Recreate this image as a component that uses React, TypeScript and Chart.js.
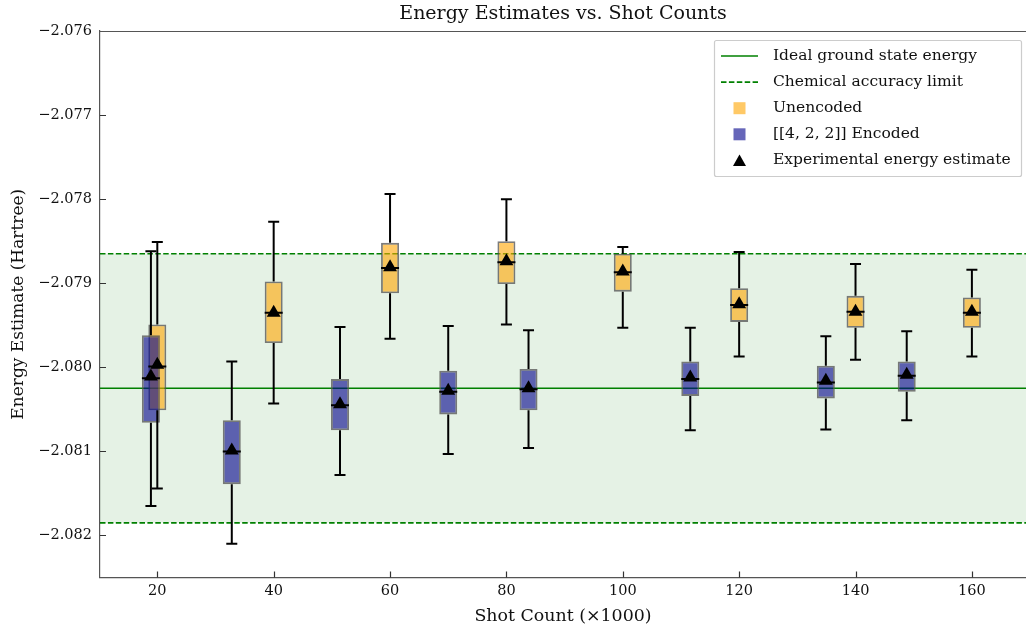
import React, { useEffect, useRef } from 'react';
import { Chart, registerables } from 'chart.js';

Chart.register(...registerables);

// ---------- data ----------
const chartTitle = 'Energy Estimates vs. Shot Counts';
const xAxisTitle = 'Shot Count (\u00d71000)';
const yAxisTitle = 'Energy Estimate (Hartree)';

const xTickValues = [20, 40, 60, 80, 100, 120, 140, 160];
const yTickValues = [-2.082, -2.081, -2.08, -2.079, -2.078, -2.077, -2.076];
const xMin = 10.15;
const xMax = 169.3;
const yMin = -2.0825;
const yMax = -2.076;

const idealEnergy = -2.08025;
const chemUpper = -2.07865;
const chemLower = -2.08185;

// Unencoded
const unencodedX = [20, 40, 60, 80, 100, 120, 140, 160];
const unencodedQ1 = [-2.08051, -2.07971, -2.07912, -2.07901, -2.0791, -2.07946, -2.07953, -2.07953];
const unencodedQ3 = [-2.07949, -2.07898, -2.07852, -2.0785, -2.07865, -2.07906, -2.07915, -2.07917];
const unencodedMedian = [-2.07999, -2.07935, -2.07882, -2.07875, -2.07887, -2.07926, -2.07934, -2.07935];
const unencodedWhiskerLo = [-2.08144, -2.08043, -2.07966, -2.07949, -2.07953, -2.07987, -2.07991, -2.07987];
const unencodedWhiskerHi = [-2.07851, -2.07827, -2.07794, -2.078, -2.07857, -2.07863, -2.07877, -2.07884];
const unencodedMean = [-2.07997, -2.07935, -2.07881, -2.07874, -2.07886, -2.07925, -2.07934, -2.07934];

// [[4, 2, 2]] Encoded
const encodedX = [18.9, 32.8, 51.4, 70.0, 83.8, 111.6, 134.9, 148.8];
const encodedQ1 = [-2.08066, -2.08139, -2.08075, -2.08056, -2.08051, -2.08034, -2.08037, -2.08029];
const encodedQ3 = [-2.07962, -2.08063, -2.08014, -2.08004, -2.08002, -2.07993, -2.07998, -2.07993];
const encodedMedian = [-2.08013, -2.081, -2.08045, -2.08029, -2.08026, -2.08014, -2.08018, -2.0801];
const encodedWhiskerLo = [-2.08165, -2.0821, -2.08128, -2.08103, -2.08096, -2.08075, -2.08074, -2.08063];
const encodedWhiskerHi = [-2.07862, -2.07993, -2.07952, -2.07951, -2.07956, -2.07953, -2.07963, -2.07957];
const encodedMean = [-2.08011, -2.08099, -2.08044, -2.08028, -2.08025, -2.08012, -2.08016, -2.08009];

const legendLabels = [
  'Ideal ground state energy',
  'Chemical accuracy limit',
  'Unencoded',
  '[[4, 2, 2]] Encoded',
  'Experimental energy estimate',
];

// ---------- styles ----------
const FONT = '"DejaVu Serif", serif';
const GREEN = '#008000';
const BAND = 'rgba(0,128,0,0.1)';
const UNENC_FILL = 'rgba(255,165,0,0.6)';
const ENC_FILL = 'rgba(0,0,139,0.6)';
const BOX_EDGE = 'rgba(80,80,80,0.75)';
const TEXT = '#111';

type P = { x: number; y: number | null };

const boxes = (xs: number[], lo: number[], hi: number[]) => xs.map((x, i) => ({ x, y: [lo[i], hi[i]] }));
const whiskers = (xs: number[], q1: number[], q3: number[], wlo: number[], whi: number[]): P[] =>
  xs.flatMap((x, i) => [
    { x, y: whi[i] },
    { x, y: q3[i] },
    { x, y: null },
    { x, y: q1[i] },
    { x, y: wlo[i] },
    { x, y: null },
  ]);
const caps = (xs: number[], wlo: number[], whi: number[]): P[] =>
  xs.flatMap((x, i) => [
    { x, y: whi[i] },
    { x, y: wlo[i] },
  ]);
const pts = (xs: number[], ys: number[]): P[] => xs.map((x, i) => ({ x, y: ys[i] }));

const decorPlugin = {
  id: 'decor',
  afterDraw(chart: any) {
    const { ctx, chartArea: ca, scales } = chart;
    const xs = scales.x;
    const ys = scales.y;
    ctx.save();
    // inward ticks
    ctx.strokeStyle = '#333';
    ctx.lineWidth = 1.2;
    ctx.beginPath();
    for (const v of xTickValues) {
      const px = Math.round(xs.getPixelForValue(v)) + 0.5;
      ctx.moveTo(px, ca.bottom);
      ctx.lineTo(px, ca.bottom - 6);
    }
    for (const v of yTickValues) {
      const py = Math.round(ys.getPixelForValue(v)) + 0.5;
      ctx.moveTo(ca.left, py);
      ctx.lineTo(ca.left + 6, py);
    }
    ctx.stroke();
    // top spine
    ctx.strokeStyle = '#555';
    ctx.lineWidth = 1.2;
    ctx.beginPath();
    ctx.moveTo(ca.left, Math.round(ca.top) + 0.5);
    ctx.lineTo(ca.right, Math.round(ca.top) + 0.5);
    ctx.stroke();

    // title
    ctx.fillStyle = TEXT;
    ctx.font = `19px ${FONT}`;
    ctx.textAlign = 'center';
    ctx.textBaseline = 'middle';
    ctx.fillText(chartTitle, (ca.left + ca.right) / 2, 14);

    // legend
    const lw = 307;
    const lh = 136;
    const lx = ca.right - 312;
    const ly = ca.top + 9;
    ctx.fillStyle = 'rgba(255,255,255,0.8)';
    ctx.strokeStyle = '#cccccc';
    ctx.lineWidth = 1.2;
    ctx.beginPath();
    (ctx as any).roundRect ? (ctx as any).roundRect(lx + 0.5, ly + 0.5, lw, lh, 2) : ctx.rect(lx + 0.5, ly + 0.5, lw, lh);
    ctx.fill();
    ctx.stroke();

    const symX = lx + 25.5;
    ctx.font = `15.5px ${FONT}`;
    ctx.textAlign = 'left';
    legendLabels.forEach((label, i) => {
      const cy = ly + 16 + i * 26.1;
      if (i === 0 || i === 1) {
        ctx.strokeStyle = GREEN;
        ctx.lineWidth = 1.6;
        ctx.setLineDash(i === 1 ? [5.5, 2.4] : []);
        ctx.beginPath();
        ctx.moveTo(lx + 7, cy);
        ctx.lineTo(lx + 44, cy);
        ctx.stroke();
        ctx.setLineDash([]);
      } else if (i === 2 || i === 3) {
        ctx.fillStyle = i === 2 ? UNENC_FILL : ENC_FILL;
        ctx.fillRect(symX - 6, cy - 6, 12, 12);
      } else {
        ctx.fillStyle = '#000';
        ctx.beginPath();
        ctx.moveTo(symX, cy - 6);
        ctx.lineTo(symX + 6.5, cy + 5.5);
        ctx.lineTo(symX - 6.5, cy + 5.5);
        ctx.closePath();
        ctx.fill();
      }
      ctx.fillStyle = TEXT;
      ctx.fillText(label, lx + 59, cy);
    });
    ctx.restore();
  },
};

export default function App() {
  const canvasRef = useRef<HTMLCanvasElement | null>(null);

  useEffect(() => {
    document.body.style.margin = '0';
    document.body.style.overflow = 'hidden';
    const canvas = canvasRef.current;
    if (!canvas) return;

    const lineBase = { pointRadius: 0, pointHoverRadius: 0, fill: false, tension: 0 };

    const chart = new Chart(canvas, {
      type: 'bar',
      data: {
        datasets: [
          {
            type: 'line',
            label: 'upper',
            data: [
              { x: xMin, y: chemUpper },
              { x: xMax, y: chemUpper },
            ],
            ...lineBase,
            borderColor: GREEN,
            borderWidth: 1.6,
            borderDash: [5.5, 2.4],
            fill: { value: chemLower },
            backgroundColor: BAND,
            order: 12,
          } as any,
          {
            type: 'line',
            label: 'lower',
            data: [
              { x: xMin, y: chemLower },
              { x: xMax, y: chemLower },
            ],
            ...lineBase,
            borderColor: GREEN,
            borderWidth: 1.6,
            borderDash: [5.5, 2.4],
            order: 11,
          } as any,
          {
            type: 'line',
            label: 'ideal',
            data: [
              { x: xMin, y: idealEnergy },
              { x: xMax, y: idealEnergy },
            ],
            ...lineBase,
            borderColor: GREEN,
            borderWidth: 1.5,
            order: 10,
          } as any,
          {
            type: 'bar',
            label: 'Unencoded',
            data: boxes(unencodedX, unencodedQ1, unencodedQ3),
            backgroundColor: UNENC_FILL,
            borderColor: BOX_EDGE,
            borderWidth: 1.8,
            borderSkipped: false,
            grouped: false,
            barPercentage: 100,
            maxBarThickness: 18,
            order: 6,
          } as any,
          {
            type: 'bar',
            label: 'Encoded',
            data: boxes(encodedX, encodedQ1, encodedQ3),
            backgroundColor: ENC_FILL,
            borderColor: BOX_EDGE,
            borderWidth: 1.8,
            borderSkipped: false,
            grouped: false,
            barPercentage: 100,
            maxBarThickness: 18,
            order: 5,
          } as any,
          {
            type: 'line',
            label: 'whiskers',
            data: [
              ...whiskers(unencodedX, unencodedQ1, unencodedQ3, unencodedWhiskerLo, unencodedWhiskerHi),
              ...whiskers(encodedX, encodedQ1, encodedQ3, encodedWhiskerLo, encodedWhiskerHi),
            ],
            ...lineBase,
            spanGaps: false,
            borderColor: '#000',
            borderWidth: 2,
            order: 3,
          } as any,
          {
            type: 'scatter',
            label: 'caps',
            data: [
              ...caps(unencodedX, unencodedWhiskerLo, unencodedWhiskerHi),
              ...caps(encodedX, encodedWhiskerLo, encodedWhiskerHi),
            ],
            pointStyle: 'line',
            pointRadius: 5.5,
            pointHoverRadius: 5.5,
            pointBorderWidth: 2,
            borderColor: '#000',
            order: 2,
          } as any,
          {
            type: 'scatter',
            label: 'medians',
            data: [...pts(unencodedX, unencodedMedian), ...pts(encodedX, encodedMedian)],
            pointStyle: 'line',
            pointRadius: 9,
            pointHoverRadius: 9,
            pointBorderWidth: 2,
            borderColor: '#000',
            order: 1,
          } as any,
          {
            type: 'scatter',
            label: 'means',
            data: [...pts(unencodedX, unencodedMean), ...pts(encodedX, encodedMean)],
            pointStyle: 'triangle',
            pointRadius: 8,
            pointHoverRadius: 8,
            pointBorderWidth: 0,
            backgroundColor: '#000',
            borderColor: '#000',
            order: 0,
          } as any,
        ],
      },
      options: {
        animation: false,
        responsive: false,
        maintainAspectRatio: false,
        events: [],
        layout: { autoPadding: false, padding: { top: 31, left: 0, right: 0, bottom: 0 } },
        plugins: {
          legend: { display: false },
          title: { display: false },
          tooltip: { enabled: false },
        },
        scales: {
          x: {
            type: 'linear',
            position: 'bottom',
            min: xMin,
            max: xMax,
            offset: false,
            grid: { display: false, drawTicks: false },
            border: { display: true, color: '#555', width: 1.2 },
            afterBuildTicks: (axis: any) => {
              axis.ticks = xTickValues.map((v) => ({ value: v }));
            },
            afterFit: (axis: any) => {
              axis.height = 55.5;
              axis.paddingLeft = 0;
              axis.paddingRight = 0;
            },
            ticks: {
              autoSkip: false,
              maxRotation: 0,
              padding: 5,
              color: TEXT,
              font: { family: FONT, size: 14.5 },
              callback: (v: any) => String(v),
            },
            title: {
              display: true,
              text: xAxisTitle,
              color: TEXT,
              font: { family: FONT, size: 17.4 },
              padding: { top: 0, bottom: 6 },
            },
          },
          y: {
            type: 'linear',
            position: 'left',
            min: yMin,
            max: yMax,
            grid: { display: false, drawTicks: false },
            border: { display: true, color: '#555', width: 1.2 },
            afterBuildTicks: (axis: any) => {
              axis.ticks = yTickValues.map((v) => ({ value: v }));
            },
            afterFit: (axis: any) => {
              axis.width = 100;
            },
            ticks: {
              autoSkip: false,
              padding: 8,
              color: TEXT,
              font: { family: FONT, size: 14.5 },
              callback: (v: any) => '\u2212' + Math.abs(Number(v)).toFixed(3),
            },
            title: {
              display: true,
              text: yAxisTitle,
              color: TEXT,
              font: { family: FONT, size: 17 },
              padding: { top: 8, bottom: 0 },
            },
          },
        },
      } as any,
      plugins: [decorPlugin],
    });

    return () => {
      chart.destroy();
    };
  }, []);

  return (
    <div style={{ width: 1026, height: 633 }}>
      <canvas ref={canvasRef} width={1026} height={633} style={{ display: 'block' }} />
    </div>
  );
}
